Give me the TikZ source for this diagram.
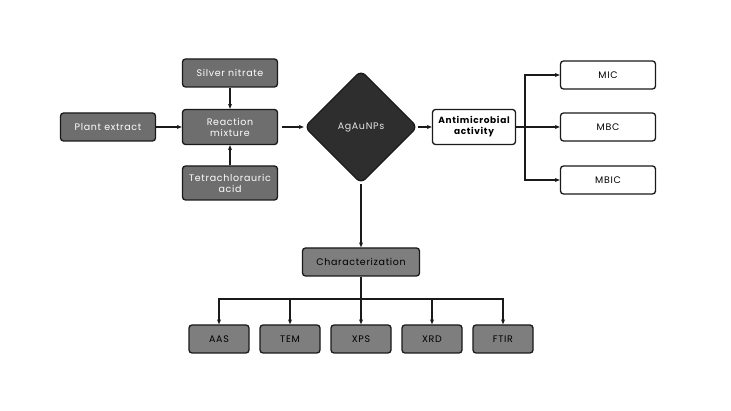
\documentclass[tikz,border=0pt]{standalone}
\usepackage{fontspec}
\setmainfont[LetterSpace=7]{Poppins}
\usetikzlibrary{shapes.geometric,arrows.meta,positioning}
\definecolor{BoxGray}{HTML}{6E6E6E}
\definecolor{BoxLight}{HTML}{7E7E7E}
\definecolor{DiamondDark}{HTML}{2E2E2E}
\definecolor{LineDark}{HTML}{1A1A1A}
\tikzset{
    % Base node style
    basenode/.style={
        draw=LineDark,
        line width=1.3pt,
        rounded corners=3pt,
        minimum height=28pt,
        minimum width=95pt,
        inner sep=1pt,
        align=center,
        font=\fontsize{9.5}{11}\selectfont
    },
    % Input boxes (white text)
    inputnode/.style={
        basenode,
        fill=BoxGray,
        text=white
    },
    % Analysis boxes (black text)
    analysisnode/.style={
        basenode,
        fill=BoxLight,
        text=black
    },
    % Test boxes (white fill)
    testnode/.style={
        basenode,
        fill=white,
        text=black
    },
    % Diamond for product
    productnode/.style={
        diamond,
        draw=LineDark,
        fill=DiamondDark,
        text=white!80!gray,
        line width=1.3pt,
        rounded corners=6pt,
        minimum size=113pt,
        inner sep=0pt,
        font=\fontsize{9.5}{11}\selectfont
    },
    % Arrow style
    myarrow/.style={
        -{Stealth[length=5pt,width=4pt]},
        line width=1.1pt,
        draw=LineDark
    },
    % Plain line
    myline/.style={
        line width=1.1pt,
        draw=LineDark
    }
}
\begin{document}
\begin{tikzpicture}[x=1pt,y=-1pt]
    \fill[white] (0,0) rectangle (731,411);
    \useasboundingbox (0,0) rectangle (731,411);

    % inputs
    \node[inputnode] (plant) at (108,127) {Plant extract};
    \node[inputnode] (silver) at (230,73) {Silver nitrate};
    \node[inputnode, minimum height=35pt] (mix) at (230,127) {Reaction\\mixture};
    \node[inputnode, minimum height=34pt] (acid) at (230,183) {Tetrachlorauric\\acid};

    % product
    \node[productnode] (np) at (361,127) {AgAuNPs};

    % antimicrobial tests
    \node[testnode, minimum width=83pt, minimum height=35pt, font=\fontsize{9}{11}\selectfont\bfseries] (anti) at (474,127) {Antimicrobial\\activity};
    \node[testnode] (mic) at (608,75) {MIC};
    \node[testnode] (mbc) at (608,127) {MBC};
    \node[testnode] (mbic) at (608,180) {MBIC};
    \coordinate (split) at (525,127);

    % characterization
    \node[analysisnode, minimum width=117pt] (char) at (361,262) {Characterization};
    \node[analysisnode, minimum width=60pt] (aas) at (219,339) {AAS};
    \node[analysisnode, minimum width=60pt] (tem) at (290,339) {TEM};
    \node[analysisnode, minimum width=60pt] (xps) at (361,339) {XPS};
    \node[analysisnode, minimum width=60pt] (xrd) at (432,339) {XRD};
    \node[analysisnode, minimum width=60pt] (ftir) at (503,339) {FTIR};
    \coordinate (bus) at (361,299);

    \draw[myarrow] (plant) -- (mix);
    \draw[myarrow] (silver) -- (mix);
    \draw[myarrow] (acid) -- (mix);
    \draw[myarrow, shorten <=4pt] (mix) -- (np);
    \draw[myarrow] (np) -- (anti);
    \draw[myarrow] (np) -- (char);

    \draw[myline] (anti) -- (split);
    \draw[myarrow] (split) |- (mic);
    \draw[myarrow] (split) -- (mbc);
    \draw[myarrow] (split) |- (mbic);

    \draw[myline] (char) -- (bus);
    \draw[myarrow] (bus) -| (aas);
    \draw[myarrow] (bus) -| (tem);
    \draw[myarrow] (bus) -- (xps);
    \draw[myarrow] (bus) -| (xrd);
    \draw[myarrow] (bus) -| (ftir);
\end{tikzpicture}
\end{document}
